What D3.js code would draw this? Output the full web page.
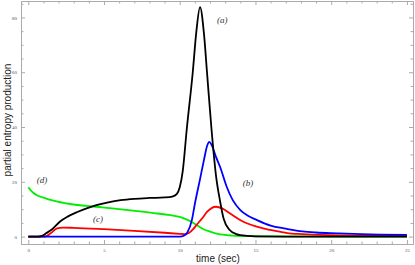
<!DOCTYPE html>
<html>
<head>
<meta charset="utf-8">
<script src="https://cdn.jsdelivr.net/npm/d3@7"></script>
<style>
  body { margin: 0; background: #fff; }
  svg { display: block; }
</style>
</head>
<body>
<div id="chart"></div>
<script>
// curve samples: [time, value]
const curveA = [[0,0],[0.6,0],[0.9,0.3],[1.2,1.3],[1.6,2.8],[2.1,5.5],[2.6,7.3],[3.2,8.9],[3.9,10.4],[4.5,11.5],[5.2,12.4],[6.1,13.3],[7,13.8],[8,14.1],[9,14.3],[9.5,14.6],[9.8,15.5],[10,18],[10.2,24],[10.46,39],[10.86,60],[11.1,75],[11.34,83.8],[11.6,74],[11.8,60],[12.1,39],[12.4,22],[12.66,13],[12.9,6.5],[13.3,2.4],[13.7,1],[14,0.5],[15,0.1],[17,0],[25,0]];
const curveB = [[0,0],[10,0],[10.3,0.4],[10.5,1.5],[10.8,6],[11,12],[11.34,21],[11.6,28],[11.8,33],[11.95,34.6],[12.1,33.5],[12.4,29],[12.66,25.5],[13.1,18.2],[13.5,13.3],[14,9.7],[14.5,7.6],[15.1,6],[16,4],[17,2.9],[18.1,1.9],[19,1.5],[20.4,1.2],[22,0.9],[25,0.6]];
const curveC = [[0,0],[1,0],[1.2,0.2],[1.5,1.3],[1.9,3.0],[2.3,3.3],[3,3.2],[5,2.7],[7,2.1],[9,1.4],[10,1.0],[10.3,0.9],[10.6,1.3],[10.9,2.8],[11.1,4.2],[11.5,6.8],[11.8,9],[12.1,10.4],[12.4,10.9],[12.8,10.3],[13.3,8.5],[14.2,5.4],[15.5,3],[16.6,1.8],[17.1,1.3],[18.1,0.9],[20,0.5],[22,0.3],[25,0.2]];
const curveD = [[0,18],[0.15,17],[0.33,16],[0.6,15],[1,14.2],[1.65,13.1],[2.75,11.9],[4,11.1],[4.9,10.7],[6,10],[7.2,9.3],[8.3,8.6],[9.4,7.8],[10,7.2],[10.4,6.4],[10.7,5.6],[11,4.6],[11.3,3.6],[11.6,2.6],[12,1.8],[12.66,0.8],[13.5,0.35],[14.6,0.15],[16,0.05],[25,0]];

const xMajor = [0, 5, 10, 15, 20, 25];
const yMajor = [0, 20, 40, 60, 80];
const curveNames = ["(a)", "(b)", "(c)", "(d)"];

const width = 415, height = 265;
const margin = {top: 1, right: 2, bottom: 21, left: 21};
const iw = width - margin.left - margin.right;
const ih = height - margin.top - margin.bottom;

const x = d3.scaleLinear().domain([-0.48, 25.4]).range([0, iw]);
const y = d3.scaleLinear().domain([-2.7, 86]).range([ih, 0]);

const svg = d3.select("#chart").append("svg")
  .attr("width", width)
  .attr("height", height);

const g = svg.append("g")
  .attr("transform", `translate(${margin.left},${margin.top})`);

// frame with inward ticks on all four sides
const xMinor = d3.range(0, 26, 1).filter(v => v % 5 !== 0);
const yMinor = d3.range(0, 86, 5).filter(v => v % 20 !== 0);

function styleAxis(sel) {
  sel.select(".domain").attr("stroke", "#aaa");
  sel.selectAll(".tick line").attr("stroke", "#aaa");
  sel.selectAll("text").attr("fill", "#555")
    .style("font-family", "Liberation Serif, serif").style("font-size", "5px");
}

const axes = [
  [d3.axisBottom(x), `translate(0,${ih})`, xMajor, xMinor, true],
  [d3.axisTop(x), null, xMajor, xMinor, false],
  [d3.axisLeft(y), null, yMajor, yMinor, true],
  [d3.axisRight(y), `translate(${iw},0)`, yMajor, yMinor, false]
];
axes.forEach(([ax, tr, major, minor, labels]) => {
  const a1 = g.append("g").attr("transform", tr)
    .call(ax.tickValues(major).tickSizeInner(-4).tickSizeOuter(0).tickPadding(4)
      .tickFormat(labels ? d3.format("d") : ""));
  styleAxis(a1);
  // minor ticks
  const a2 = g.append("g").attr("transform", tr)
    .call(ax.tickValues(minor).tickSizeInner(-2.5).tickSizeOuter(0).tickFormat(""));
  styleAxis(a2);
});

// curves
const line = d3.line()
  .x(d => x(d[0]))
  .y(d => y(d[1]))
  .curve(d3.curveMonotoneX);

const plot = g.append("g");
[[curveD, "#00ee00"], [curveC, "#ff0000"], [curveB, "#0000ff"], [curveA, "#000000"]].forEach(([data, color]) => {
  plot.append("path")
    .datum(data)
    .attr("fill", "none")
    .attr("stroke", color)
    .attr("stroke-width", 1.8)
    .attr("d", line);
});

// curve labels
const labelPos = [[12.8, 78], [14.5, 18.5], [4.6, 5.3], [0.9, 19.6]];
g.selectAll(".curve-label")
  .data(curveNames)
  .enter().append("text")
  .attr("class", "curve-label")
  .attr("x", (d, i) => x(labelPos[i][0]))
  .attr("y", (d, i) => y(labelPos[i][1]))
  .attr("text-anchor", "middle")
  .style("font-family", "Liberation Serif, serif")
  .style("font-style", "italic")
  .style("font-size", "9px")
  .attr("fill", "#333")
  .text(d => d);

// axis titles
svg.append("text")
  .attr("x", 218)
  .attr("y", 262)
  .attr("text-anchor", "middle")
  .style("font-family", "Liberation Sans, Arial, sans-serif")
  .style("font-size", "10px")
  .attr("fill", "#222")
  .text("time (sec)");

svg.append("text")
  .attr("transform", "translate(11,120) rotate(-90)")
  .attr("text-anchor", "middle")
  .style("font-family", "Liberation Sans, Arial, sans-serif")
  .style("font-size", "10px")
  .attr("fill", "#222")
  .text("partial entropy production");
</script>
</body>
</html>
